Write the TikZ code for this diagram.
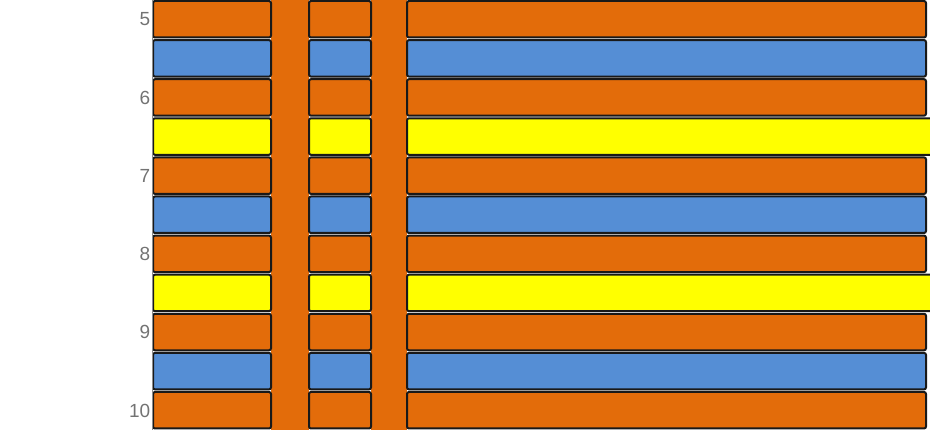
\documentclass[tikz,border=0pt]{standalone}
\usepackage{fontspec}
\setmainfont{Liberation Sans}
\definecolor{copper}{RGB}{227,108,10}
\definecolor{core}{RGB}{85,142,213}
\definecolor{prepreg}{RGB}{255,255,0}

\tikzstyle{layer} = [draw=black!90, line width=2pt, rounded corners=2pt]
\tikzstyle{via} = [fill=copper]
\tikzstyle{num} = [anchor=east, text=black!55, inner sep=0.5pt, font=\fontsize{19}{19}\selectfont]

\begin{document}
\begin{tikzpicture}[x=1pt, y=-1pt]
  \useasboundingbox (0,0) rectangle (930,430);
  \clip (0,0) rectangle (930,430);
  % vias through the stack
  \fill[via] (271,-5) rectangle (309,435);
  \fill[via] (371,-5) rectangle (407,435);
  % layers, top to bottom
  \foreach \k/\c/\e in {0/copper/926,1/core/926,2/copper/926,3/prepreg/934,
                        4/copper/926,5/core/926,6/copper/926,7/prepreg/934,
                        8/copper/926,9/core/926,10/copper/926}{
    \pgfmathsetmacro\t{1+39.1*\k}
    \draw[layer, fill=\c] (153,\t) rectangle (271,\t+36.5);
    \draw[layer, fill=\c] (309,\t) rectangle (371,\t+36.5);
    \draw[layer, fill=\c] (407,\t) rectangle (\e,\t+36.5);
  }
  % axis and layer numbers
  \draw[black!45, line width=1pt] (152,-2) -- (152,432);
  \foreach \n [count=\i from 0] in {5,...,10}
    \node[num] (lay\n) at (151,19.5+78.2*\i) {\n};
\end{tikzpicture}
\end{document}
